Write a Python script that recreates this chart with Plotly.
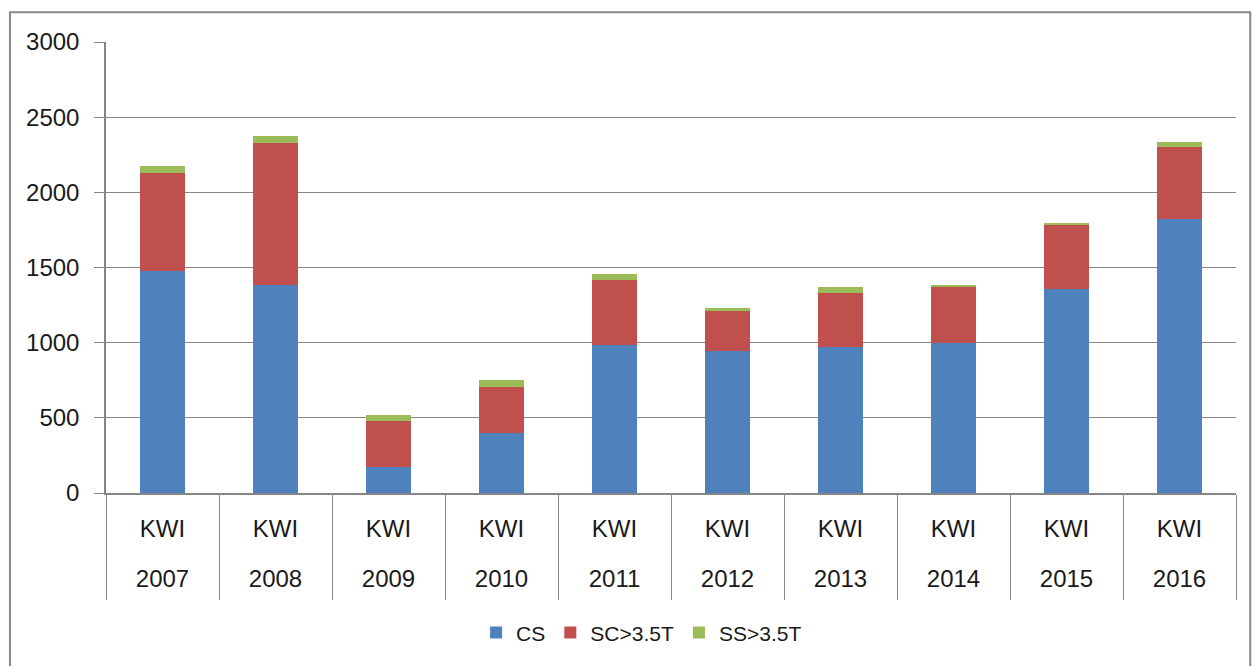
import plotly.graph_objects as go

years = ["2007", "2008", "2009", "2010", "2011", "2012", "2013", "2014", "2015", "2016"]
group = "KWI"
cs = [1480, 1385, 175, 400, 982, 942, 969, 998, 1359, 1825]
sc = [650, 945, 305, 307, 437, 271, 364, 375, 426, 479]
ss = [47, 46, 40, 47, 40, 20, 40, 13, 13, 33]
series_names = ["CS", "SC>3.5T", "SS>3.5T"]
colors = ["#4F81BD", "#C0504D", "#9BBB59"]
yticks = [0, 500, 1000, 1500, 2000, 2500, 3000]

fig = go.Figure()
for name, vals, col in zip(series_names, [cs, sc, ss], colors):
    fig.add_trace(go.Bar(x=years, y=vals, name=name, marker=dict(color=col, line=dict(width=0)),
                         xaxis="x"))
# invisible helper trace so the second (year label) axis knows its categories
fig.add_trace(go.Scatter(x=years, y=cs, xaxis="x2", mode="markers", marker=dict(opacity=0),
                         showlegend=False, hoverinfo="skip"))

grid = "#868686"
txt = "#1a1a1a"
xr = [-0.5, len(years) - 0.5]
fig.update_layout(
    width=1254, height=666,
    barmode="stack", bargap=0.6,
    paper_bgcolor="white", plot_bgcolor="white",
    margin=dict(l=106, r=18, t=42, b=173),
    font=dict(family="Liberation Sans, Arial, sans-serif", color=txt, size=24),
    legend=dict(orientation="h", x=0.474, y=-0.31, xanchor="center", yanchor="middle",
                font=dict(size=21), itemwidth=30, traceorder="normal"),
    showlegend=True,
    xaxis=dict(type="category", categoryorder="array", categoryarray=years, range=xr,
               showline=True, linecolor=grid, linewidth=1.5,
               ticks="outside", tickson="boundaries", ticklen=105, tickcolor=grid, tickwidth=1.3,
               tickmode="array", tickvals=years, ticktext=[group] * len(years),
               tickfont=dict(size=24), ticklabelstandoff=13, showgrid=False, automargin=False),
    xaxis2=dict(type="category", categoryorder="array", categoryarray=years, range=xr,
                overlaying="x", anchor="y", side="bottom",
                showline=False, ticks="", showgrid=False, zeroline=False,
                tickfont=dict(size=24), ticklabelstandoff=69, automargin=False),
    yaxis=dict(range=[0, 3000], tickvals=yticks, showgrid=True, gridcolor=grid, gridwidth=1.3,
               showline=True, linecolor=grid, linewidth=1.5, ticks="outside", ticklen=10,
               tickcolor=grid, tickwidth=1.3, tickfont=dict(size=24), ticklabelstandoff=10,
               zeroline=False, automargin=False),
)

fig.add_shape(type="rect", xref="paper", yref="paper", x0=-0.0850, x1=1.0126, y0=-0.45, y1=1.066,
              line=dict(color=grid, width=2), fillcolor="rgba(0,0,0,0)", layer="below")

fig.write_html("out.html", post_script="document.body.style.margin='0';",
               config={"displayModeBar": False})
